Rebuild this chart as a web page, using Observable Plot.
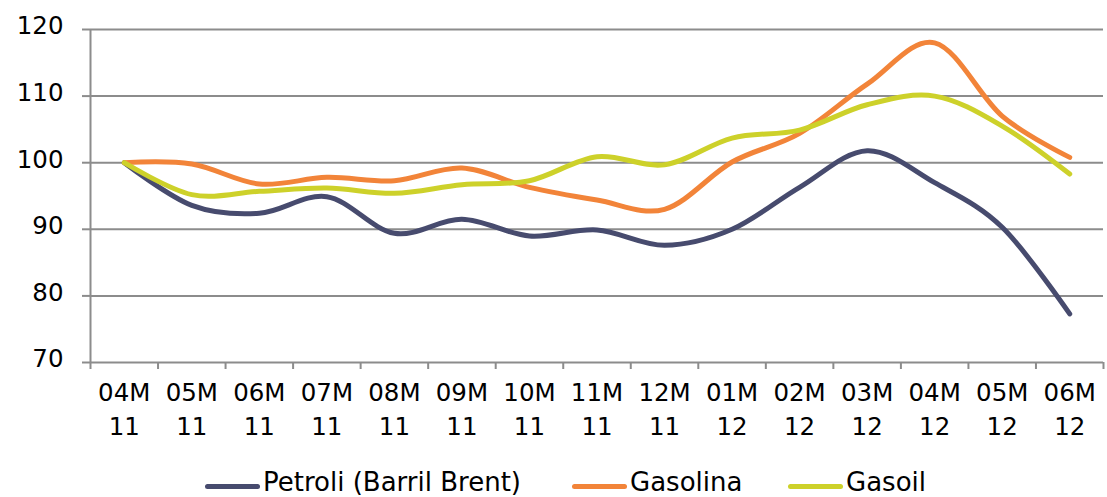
<!DOCTYPE html>
<html>
<head>
<meta charset="utf-8">
<script src="https://cdn.jsdelivr.net/npm/d3@7"></script>
<script src="https://cdn.jsdelivr.net/npm/@observablehq/plot@0.6"></script>
<style>
  html, body { margin: 0; padding: 0; background: #fff; overflow: hidden; }
  body { width: 1107px; height: 497px; font-family: "DejaVu Sans", sans-serif; }
  #legend { position: relative; width: 1107px; height: 47px; font-size: 26px; color: #000; }
  .sw { position: absolute; height: 5px; border-radius: 3px; }
  .lt { position: absolute; line-height: 1; white-space: nowrap; }
</style>
</head>
<body>
<div id="chart"></div>
<div id="legend"></div>
<script>
// Category labels (month + year)
const months = ["04M","05M","06M","07M","08M","09M","10M","11M","12M","01M","02M","03M","04M","05M","06M"];
const years  = ["11","11","11","11","11","11","11","11","11","12","12","12","12","12","12"];

// Series values (index, base 100)
const petroli  = [100, 93.6, 92.4, 94.9, 89.4, 91.5, 89.0, 89.9, 87.6, 90.0, 96.3, 101.8, 97.0, 90.3, 77.3];
const gasolina = [100, 99.8, 96.8, 97.8, 97.3, 99.2, 96.3, 94.4, 93.0, 100.1, 104.4, 111.8, 118.0, 107.0, 100.8];
const gasoil   = [100, 95.2, 95.7, 96.2, 95.4, 96.7, 97.3, 100.9, 99.7, 103.7, 104.9, 108.7, 110.0, 105.5, 98.3];

const seriesNames  = ["Petroli (Barril Brent)", "Gasolina", "Gasoil"];
const seriesColors = ["#474b6e", "#f28439", "#cdd12a"];
const yTicks = [70, 80, 90, 100, 110, 120];

const seriesValues = [petroli, gasolina, gasoil];
const data = seriesValues.flatMap((vals, s) =>
  vals.map((v, i) => ({ series: seriesNames[s], i, v }))
);
const catIdx = d3.range(months.length);
const boundaries = d3.range(months.length + 1).map(k => k - 0.5);

const gridColor = "#8c8c8c";
const font = "'DejaVu Sans', sans-serif";

const chart = Plot.plot({
  width: 1107,
  height: 450,
  marginLeft: 90,
  marginRight: 4,
  marginTop: 29,
  marginBottom: 88,
  style: { fontFamily: font, fontSize: "24.5px", color: "#000", background: "#fff" },
  x: { domain: [-0.5, months.length - 0.5] },
  y: { domain: [70, 120] },
  color: { domain: seriesNames, range: seriesColors },
  marks: [
    Plot.ruleY(yTicks, { stroke: gridColor, strokeWidth: 2 }),
    Plot.ruleX([-0.5], { y1: 70, y2: 120, stroke: gridColor, strokeWidth: 2 }),
    Plot.axisY({ ticks: yTicks, tickSize: 8, tickFormat: () => "", stroke: gridColor, strokeWidth: 2, label: null }),
    Plot.axisY({ ticks: yTicks, tickSize: 0, tickPadding: 27, dy: -3, label: null, fill: "#000" }),
    Plot.axisX({ ticks: boundaries, tickSize: 7, tickFormat: () => "", stroke: gridColor, strokeWidth: 2, label: null }),
    Plot.axisX({ ticks: catIdx, tickSize: 0, tickPadding: 14, lineHeight: 1.4,
                 tickFormat: i => months[i] + "\n" + years[i], label: null, fill: "#000" }),
    Plot.line(data, { x: "i", y: "v", z: "series", stroke: "series", strokeWidth: 5,
                      curve: "cardinal", strokeLinecap: "round", strokeLinejoin: "round" })
  ]
});
document.getElementById("chart").appendChild(chart);

// Legend (below the SVG)
const legend = document.getElementById("legend");
const legendSwatchX = [205, 572, 788];
seriesNames.forEach((name, k) => {
  const sw = document.createElement("div");
  sw.className = "sw";
  sw.style.left = legendSwatchX[k] + "px";
  sw.style.width = "55px";
  sw.style.top = "34px";
  sw.style.background = seriesColors[k];
  legend.appendChild(sw);
  const t = document.createElement("div");
  t.className = "lt";
  t.style.left = (legendSwatchX[k] + 58) + "px";
  t.style.top = "19px";
  t.textContent = name;
  legend.appendChild(t);
});
</script>
</body>
</html>
